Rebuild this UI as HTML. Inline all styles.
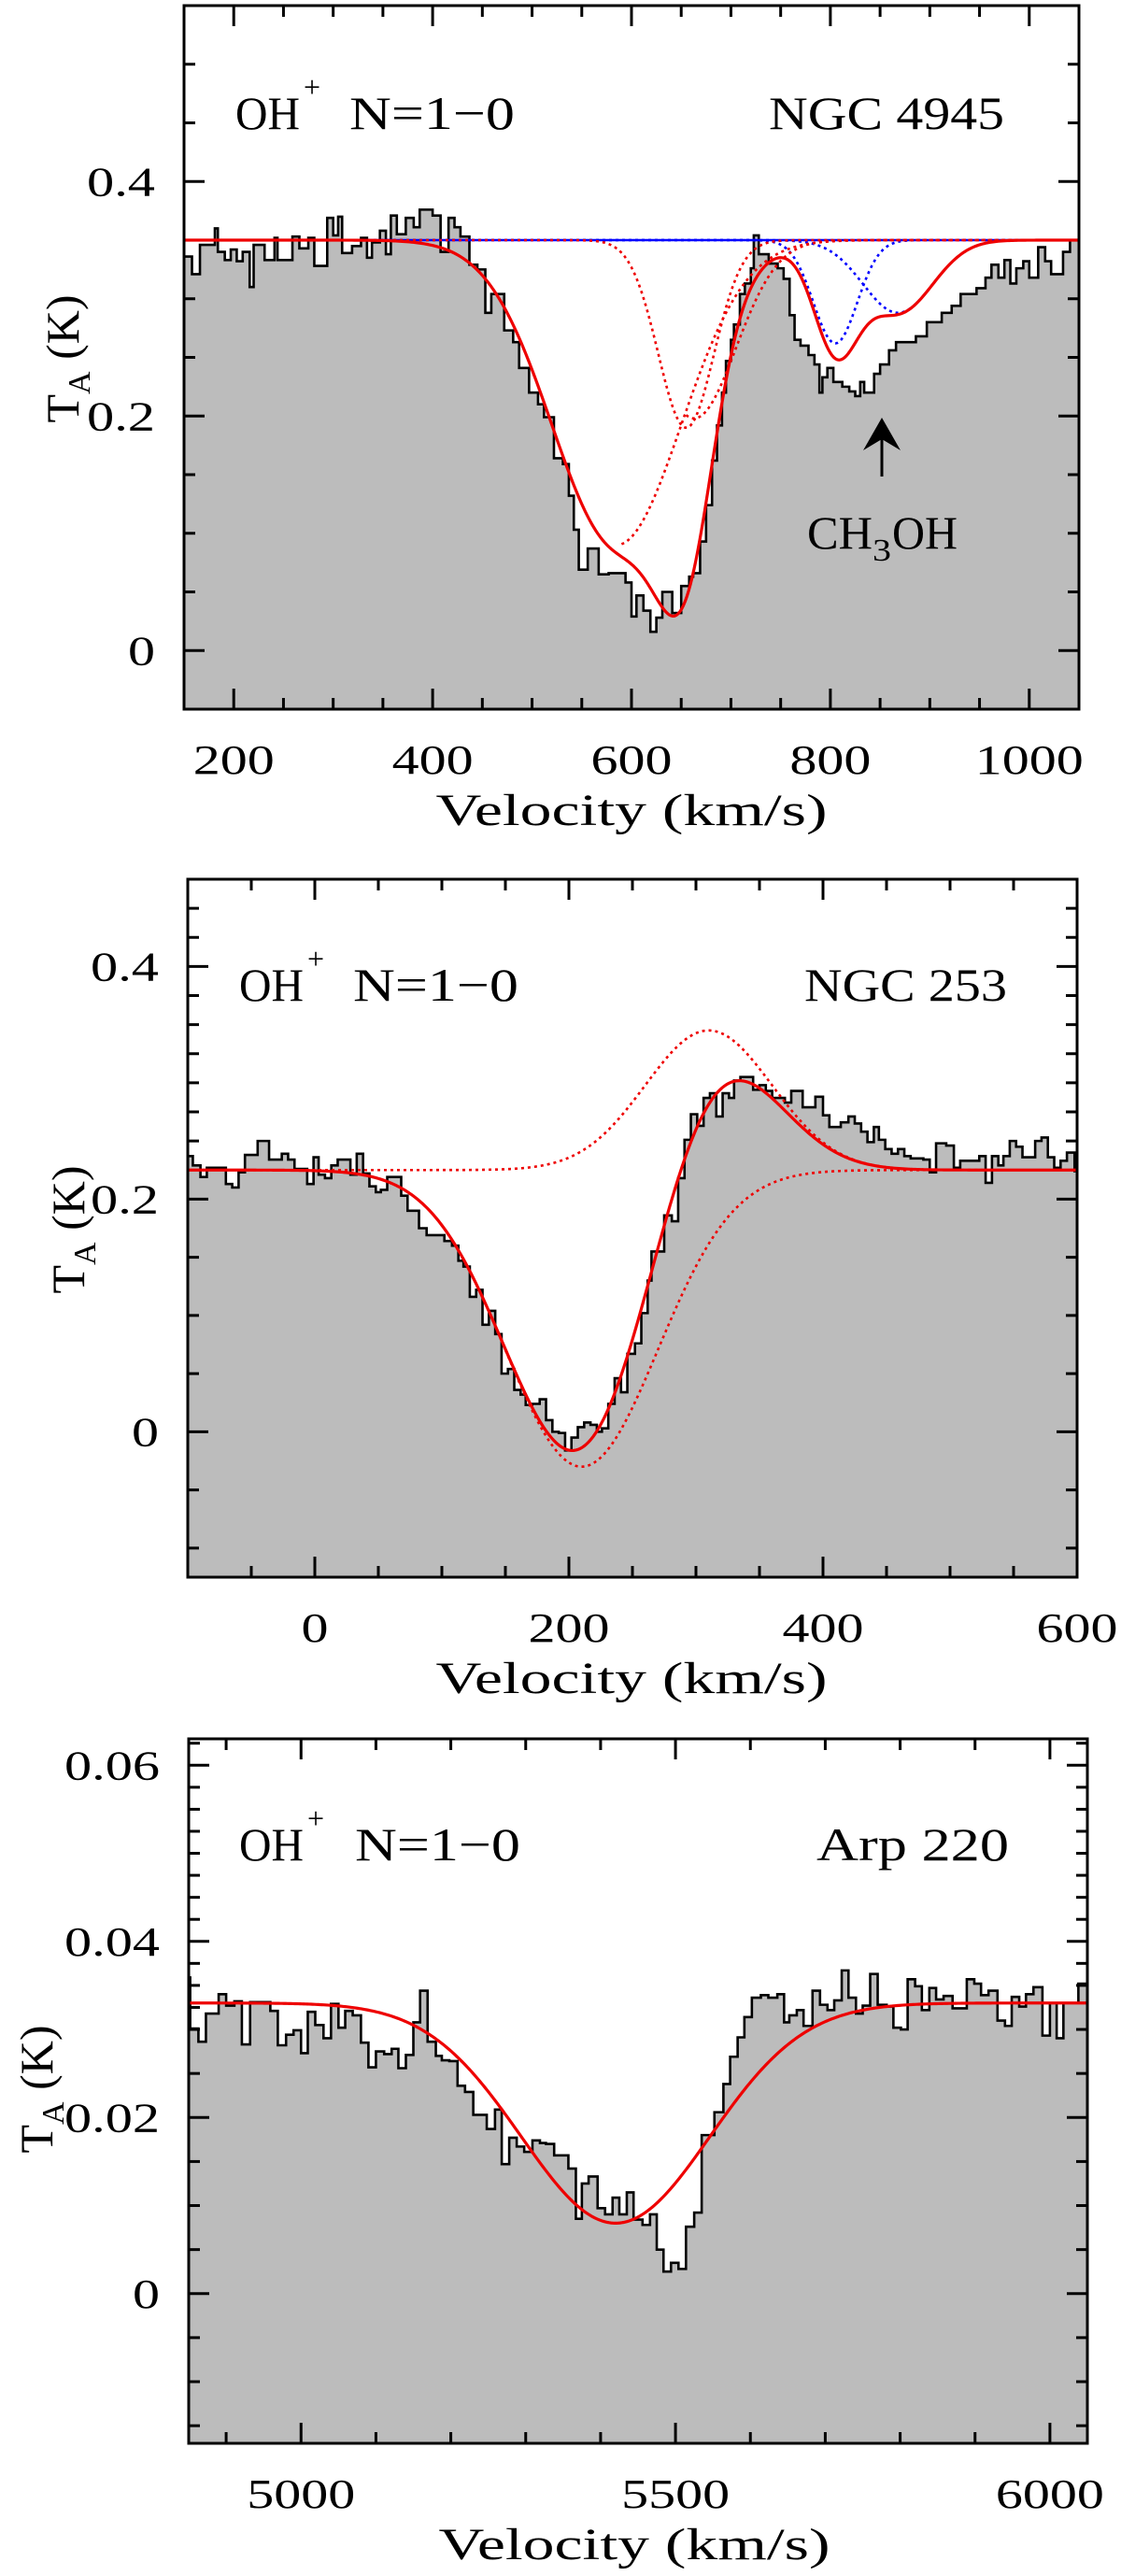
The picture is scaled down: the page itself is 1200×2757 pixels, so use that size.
<!DOCTYPE html>
<html><head><meta charset="utf-8"><title>OH+ N=1-0 spectra</title>
<style>
html,body{margin:0;padding:0;background:#fff;}
svg{display:block;}
text{font-family:"Liberation Serif","DejaVu Serif",serif;fill:#000;}
</style></head>
<body>
<svg id="fig" xmlns="http://www.w3.org/2000/svg" width="1200" height="2757" viewBox="0 0 1200 2757">
<rect x="0" y="0" width="1200" height="2757" fill="#fff"/>
<defs>
<clipPath id="clip0"><rect x="197" y="6" width="958" height="753"/></clipPath>
<clipPath id="clip1"><rect x="201" y="941" width="952" height="747"/></clipPath>
<clipPath id="clip2"><rect x="202" y="1861" width="962" height="754"/></clipPath>
</defs>
<g id="layer"></g>

<g>
<text x="252" y="138" font-size="50" textLength="69" lengthAdjust="spacingAndGlyphs">OH</text>
<text x="325" y="104" font-size="32">+</text>
<text x="374" y="138" font-size="50" textLength="177" lengthAdjust="spacingAndGlyphs">N=1−0</text>
<text x="823" y="138" font-size="50" textLength="252" lengthAdjust="spacingAndGlyphs">NGC 4945</text>
<text x="864" y="587" font-size="50" textLength="70" lengthAdjust="spacingAndGlyphs">CH</text>
<text x="934" y="600" font-size="34" textLength="20" lengthAdjust="spacingAndGlyphs">3</text>
<text x="955" y="587" font-size="50" textLength="70" lengthAdjust="spacingAndGlyphs">OH</text>
<line x1="944" y1="510" x2="944" y2="465" stroke="#000" stroke-width="3"/>
<polygon points="944,447 964,482 944,470 924,482" fill="#000"/>
</g>
<g>
<text x="256" y="1071" font-size="50" textLength="69" lengthAdjust="spacingAndGlyphs">OH</text>
<text x="329" y="1037" font-size="32">+</text>
<text x="378" y="1071" font-size="50" textLength="177" lengthAdjust="spacingAndGlyphs">N=1−0</text>
<text x="861" y="1071" font-size="50" textLength="217" lengthAdjust="spacingAndGlyphs">NGC 253</text>
</g>
<g>
<text x="256" y="1991" font-size="50" textLength="69" lengthAdjust="spacingAndGlyphs">OH</text>
<text x="329" y="1957" font-size="32">+</text>
<text x="380" y="1991" font-size="50" textLength="177" lengthAdjust="spacingAndGlyphs">N=1−0</text>
<text x="874" y="1991" font-size="50" textLength="206" lengthAdjust="spacingAndGlyphs">Arp 220</text>
</g>
</svg>
<script>
// ---------- Panel 1: NGC 4945 ----------
const p1Edges = [150,158,166,181,184,191,197,203,209,216,220,231,241,244,259,266,275,281,294,300,305,309,319,328,334,339,347,353,358,364,373,381,387,400,408,416,422,428,437,445,453,459,472,481,487,497,506,512,522,531,537,542,547,556,567,577,594,
600,605,612,619,625,631,641,650,658,662,669,675,681,686,691,695,700,703,709,714,720,723,728,738,747,753,759,764,770,778,784,789,792,797,803,812,819,825,830,834,844,850,859,866,886,897,912,922,931,947,956,962,969,975,981,987,994,1000,1009,1016,1022,1034,1041];
const p1Values = [0.336,0.321,0.346,0.36,0.34,0.333,0.342,0.332,0.34,0.31,0.346,0.333,0.352,0.333,0.353,0.343,0.352,0.328,0.369,0.354,0.37,0.339,0.345,0.352,0.335,0.348,0.358,0.338,0.371,0.355,0.369,0.361,0.376,0.371,0.34,0.369,0.361,0.353,0.329,0.325,0.288,0.304,0.273,0.263,0.241,0.22,0.21,0.199,0.164,0.159,0.132,0.103,0.069,0.087,0.065,0.066,0.058,
0.029,0.047,0.034,0.016,0.028,0.05,0.032,0.055,0.063,0.066,0.093,0.124,0.162,0.192,0.22,0.247,0.265,0.278,0.304,0.313,0.326,0.354,0.338,0.33,0.326,0.317,0.286,0.265,0.26,0.252,0.244,0.22,0.233,0.241,0.229,0.225,0.221,0.217,0.229,0.22,0.236,0.244,0.256,0.263,0.268,0.28,0.288,0.294,0.304,0.309,0.318,0.329,0.318,0.333,0.313,0.326,0.332,0.318,0.344,0.332,0.321,0.34,0.35];
const p1Baseline = 0.35;
const p1RedCenters = [585,655];
const p1RedDepths = [0.26,0.16];
const p1RedSigmas = [65,28];
const p1BlueCenters = [805,868];
const p1BlueDepths = [0.088,0.062];
const p1BlueSigmas = [22,35];
const p1XTicks = [200,400,600,800,1000];
const p1XTickLabels = ["200","400","600","800","1000"];
const p1YTicks = [0,0.2,0.4];
const p1YTickLabels = ["0","0.2","0.4"];

// ---------- Panel 2: NGC 253 ----------
const p2Edges = [-100,-96,-90,-85,-70,-65,-60,-55,-45,-36,-26,-21,-16,-6,-1,3,8,13,18,28,33,38,43,48,52,57,68,73,82,88,102,108,113,117,122,127,132,137,142,147,152,157,162,166,171,177,182,187,192,197,202,207,212,217,222,226,231,236,241,246,
252,257,262,265,275,281,286,291,296,301,306,311,316,321,326,330,335,345,350,355,360,370,375,384,394,400,405,414,420,425,430,435,440,444,449,454,459,464,469,479,484,489,497,503,508,523,528,533,538,542,547,552,557,562,567,572,577,582,587,592,598];
const p2Values = [0.237,0.229,0.219,0.227,0.213,0.21,0.223,0.238,0.25,0.234,0.239,0.234,0.226,0.213,0.236,0.221,0.218,0.229,0.234,0.221,0.239,0.222,0.211,0.206,0.208,0.219,0.203,0.19,0.175,0.169,0.164,0.16,0.147,0.142,0.116,0.122,0.092,0.104,0.084,0.05,0.054,0.036,0.032,0.023,0.024,0.028,0.01,0.0,-0.001,-0.016,-0.005,0.004,0.008,0.006,0.0,0.003,0.024,0.046,0.034,0.067,
0.076,0.102,0.13,0.155,0.186,0.181,0.218,0.251,0.273,0.263,0.287,0.291,0.271,0.291,0.287,0.302,0.305,0.294,0.298,0.293,0.287,0.283,0.293,0.279,0.288,0.272,0.262,0.266,0.271,0.265,0.258,0.249,0.262,0.251,0.243,0.239,0.243,0.237,0.235,0.234,0.223,0.248,0.246,0.227,0.233,0.237,0.214,0.237,0.229,0.237,0.25,0.245,0.236,0.236,0.25,0.253,0.236,0.227,0.233,0.24,0.224];
const p2Baseline = 0.225;
const p2EmisCenter = [310];
const p2EmisAmp = [0.12];
const p2EmisSigma = [50];
const p2AbsCenter = [210];
const p2AbsDepth = [0.255];
const p2AbsSigma = [60];
const p2XTicks = [0,200,400,600];
const p2XTickLabels = ["0","200","400","600"];
const p2YTicks = [0,0.2,0.4];
const p2YTickLabels = ["0","0.2","0.4"];

// ---------- Panel 3: Arp 220 ----------
const p3Edges = [4850,4852,4863,4873,4890,4900,4911,4921,4932,4950,4959,4969,4980,4990,5000,5009,5019,5030,5040,5050,5059,5069,5080,5090,5100,5111,5121,5130,5140,5150,5159,5169,5180,5188,5198,5209,5219,5230,5248,5259,5268,5278,5288,5298,5309,5319,5327,5338,5357,5367,
5375,5384,5396,5406,5416,5425,5435,5444,5456,5466,5475,5484,5494,5504,5514,5525,5535,5552,5564,5573,5583,5592,5602,5614,5624,5636,5645,5652,5662,5671,5683,5693,5703,5712,5722,5731,5741,5750,5760,5770,5782,5791,5801,5810,5820,5829,5839,5848,5858,5870,5880,5889,5899,5908,5918,5930,5940,5949,5959,5968,5978,5990,6000,6009,6018,6028,6038];
const p3Values = [0.0359,0.0301,0.0286,0.0318,0.034,0.0327,0.0332,0.0283,0.0331,0.0331,0.0321,0.0282,0.0294,0.0299,0.0273,0.032,0.0305,0.029,0.0329,0.0302,0.0321,0.0316,0.0285,0.0257,0.0275,0.0272,0.0278,0.0256,0.0271,0.0308,0.0344,0.0286,0.027,0.0265,0.0264,0.0236,0.0229,0.0203,0.0187,0.0209,0.0147,0.0177,0.0167,0.0161,0.0174,0.0171,0.017,0.0157,0.0142,0.0085,
0.0125,0.0133,0.0097,0.009,0.0109,0.009,0.0115,0.0084,0.0078,0.009,0.005,0.0025,0.0035,0.0028,0.0076,0.0092,0.018,0.0206,0.0238,0.0269,0.0291,0.0314,0.0336,0.0339,0.0336,0.034,0.0308,0.0316,0.0322,0.0304,0.0344,0.0328,0.0322,0.0333,0.0367,0.0336,0.0318,0.0327,0.0363,0.0328,0.0326,0.0302,0.03,0.0357,0.0349,0.0322,0.0347,0.0334,0.0338,0.0324,0.0324,0.0357,0.0352,0.0339,0.0344,0.031,0.0304,0.0337,0.0326,0.034,0.0348,0.0293,0.033,0.029,0.033,0.033,0.0352];
const p3Baseline = 0.033;
const p3AbsCenter = [5420];
const p3AbsDepth = [0.025];
const p3AbsSigma = [126];
const p3XTicks = [5000,5500,6000];
const p3XTickLabels = ["5000","5500","6000"];
const p3YTicks = [0,0.02,0.04,0.06];
const p3YTickLabels = ["0","0.02","0.04","0.06"];

// ---------- layout (pixel geometry, not data) ----------
const panels = [
 {name:'ngc4945', L:197,R:1155,T:6,B:759, vmin:150,vmax:1050, tmin:-0.05,tmax:0.55, xMinor:50,xMajor:200, yFine:0.05,yCoarse:0.05,yMajor:0.2, titleX:676, yTitleX:84, yTitleY:384, clip:'clip0'},
 {name:'ngc253', L:201,R:1153,T:941,B:1688, vmin:-100,vmax:600, tmin:-0.125,tmax:0.475, xMinor:50,xMajor:200, yFine:0.025,yCoarse:0.05,yMajor:0.2, titleX:676, yTitleX:90, yTitleY:1316, clip:'clip1'},
 {name:'arp220', L:202,R:1164,T:1861,B:2615, vmin:4850,vmax:6050, tmin:-0.017,tmax:0.063, xMinor:100,xMajor:500, yFine:0.0025,yCoarse:0.005,yMajor:0.02, titleX:679, yTitleX:56, yTitleY:2236, clip:'clip2'}
];
const NS='http://www.w3.org/2000/svg';
const layer=document.getElementById('layer');
function mk(tag, attrs, parent){
  const e=document.createElementNS(NS,tag);
  for(const k in attrs) e.setAttribute(k, attrs[k]);
  (parent||layer).appendChild(e);
  return e;
}
function xs(p,v){return p.L+(v-p.vmin)/(p.vmax-p.vmin)*(p.R-p.L);}
function ys(p,t){return p.B-(t-p.tmin)/(p.tmax-p.tmin)*(p.B-p.T);}
function gauss(v,c,a,s){return a*Math.exp(-(v-c)*(v-c)/(2*s*s));}
function isMult(val,step){const r=val/step;return Math.abs(r-Math.round(r))<1e-6;}

function yTicks(p,g,step,skipStep,majStep){
  const start=Math.ceil(p.tmin/step-1e-9)*step;
  for(let t=start;t<=p.tmax+1e-9;t+=step){
    if(skipStep && isMult(t,skipStep)) continue;
    const y=ys(p,t);
    const len=isMult(t,majStep)?22:12;
    const a=mk('line',{x1:p.L,y1:y,x2:p.L+len,y2:y,stroke:'#000','stroke-width':3},g);
    
    
    const b=mk('line',{x1:p.R,y1:y,x2:p.R-len,y2:y,stroke:'#000','stroke-width':3},g);
    
    
  }
}
function xTicks(p,g){
  const start=Math.ceil(p.vmin/p.xMinor-1e-9)*p.xMinor;
  for(let v=start;v<=p.vmax+1e-9;v+=p.xMinor){
    const x=xs(p,v);
    const len=isMult(v,p.xMajor)?22:12;
    const a=mk('line',{x1:x,y1:p.B,x2:x,y2:p.B-len,stroke:'#000','stroke-width':3},g);
    
    
    const b=mk('line',{x1:x,y1:p.T,x2:x,y2:p.T+len,stroke:'#000','stroke-width':3},g);
    
    
  }
}
function histPaths(p,edges,vals){
  let line='', fill='M'+xs(p,edges[0])+','+p.B;
  for(let i=0;i<vals.length;i++){
    const x0=xs(p,edges[i]);
    const x1=xs(p,i+1<edges.length?edges[i+1]:p.vmax);
    const y=ys(p,vals[i]);
    line+=(i===0?'M':'L')+x0+','+y+'L'+x1+','+y;
    fill+='L'+x0+','+y+'L'+x1+','+y;
  }
  fill+='L'+xs(p,p.vmax)+','+p.B+'Z';
  return {line,fill};
}
function curvePath(p,fn,v0,v1){
  let d='';const n=500;
  for(let i=0;i<=n;i++){
    const v=v0+(v1-v0)*i/n;
    d+=(i===0?'M':'L')+xs(p,v).toFixed(2)+','+ys(p,fn(v)).toFixed(2);
  }
  return d;
}
function textEl(g,x,y,str,size,anchor,len){
  const t=mk('text',{x:x,y:y,'font-size':size,'text-anchor':anchor},g);
  if(len){t.setAttribute('textLength',len);t.setAttribute('lengthAdjust','spacingAndGlyphs');}
  t.textContent=str;
  return t;
}
function labelWidth(s){let w=0;for(const c of s){w+=(c==='.')?15:29;}return w;}

const edgesAll=[p1Edges,p2Edges,p3Edges];
const valsAll=[p1Values,p2Values,p3Values];
const xtAll=[p1XTicks,p2XTicks,p3XTicks];
const xtlAll=[p1XTickLabels,p2XTickLabels,p3XTickLabels];
const ytAll=[p1YTicks,p2YTicks,p3YTicks];
const ytlAll=[p1YTickLabels,p2YTickLabels,p3YTickLabels];

const modelFns=[
  {
    total:v=>{let t=p1Baseline;for(let i=0;i<p1RedCenters.length;i++)t-=gauss(v,p1RedCenters[i],p1RedDepths[i],p1RedSigmas[i]);for(let i=0;i<p1BlueCenters.length;i++)t-=gauss(v,p1BlueCenters[i],p1BlueDepths[i],p1BlueSigmas[i]);return t;},
    red:[ {fn:v=>p1Baseline-gauss(v,p1RedCenters[0],p1RedDepths[0],p1RedSigmas[0]), from:p1RedCenters[0]+5},
          {fn:v=>p1Baseline-gauss(v,p1RedCenters[1],p1RedDepths[1],p1RedSigmas[1]), from:null},
          {fn:v=>p1Baseline-gauss(v,p1RedCenters[1]+8,p1RedDepths[1]*0.95,p1RedSigmas[1]*1.5), from:p1RedCenters[1]}],
    blue:[ v=>p1Baseline-gauss(v,p1BlueCenters[0],p1BlueDepths[0],p1BlueSigmas[0]),
           v=>p1Baseline-gauss(v,p1BlueCenters[1],p1BlueDepths[1],p1BlueSigmas[1])],
    blueBase:true
  },
  {
    total:v=>p2Baseline+gauss(v,p2EmisCenter[0],p2EmisAmp[0],p2EmisSigma[0])-gauss(v,p2AbsCenter[0],p2AbsDepth[0],p2AbsSigma[0]),
    red:[ {fn:v=>p2Baseline+gauss(v,p2EmisCenter[0],p2EmisAmp[0],p2EmisSigma[0]), from:null},
          {fn:v=>p2Baseline-gauss(v,p2AbsCenter[0],p2AbsDepth[0],p2AbsSigma[0]), from:null}],
    blue:[]
  },
  {
    total:v=>p3Baseline-gauss(v,p3AbsCenter[0],p3AbsDepth[0],p3AbsSigma[0]),
    red:[], blue:[]
  }
];

panels.forEach((p,k)=>{
  const g=mk('g',{});
  
  
  if(p.yFine!==p.yCoarse) yTicks(p,g,p.yFine,p.yCoarse,p.yMajor);
  const h=histPaths(p,edgesAll[k],valsAll[k]);
  const f=mk('path',{d:h.fill,fill:'#bcbcbc',stroke:'none','clip-path':'url(#'+p.clip+')'},g);
  
  
  yTicks(p,g,p.yCoarse,null,p.yMajor);
  xTicks(p,g);
  const hl=mk('path',{d:h.line,fill:'none',stroke:'#000','stroke-width':2.6,'stroke-linejoin':'miter','clip-path':'url(#'+p.clip+')'},g);
  
  
  const m=modelFns[k];
  if(m.blueBase){
    const bl=mk('line',{x1:xs(p,p.vmin),y1:ys(p,p1Baseline),x2:xs(p,p.vmax),y2:ys(p,p1Baseline),stroke:'#0000ff','stroke-width':2.4},g);
    
    
  }
  m.blue.forEach(fn=>{
    const c=mk('path',{d:curvePath(p,fn,p.vmin,p.vmax),fill:'none',stroke:'#0000ff','stroke-width':2.6,'stroke-dasharray':'3 4','clip-path':'url(#'+p.clip+')'},g);
    
    
  });
  m.red.forEach(r=>{
    const c=mk('path',{d:curvePath(p,r.fn,r.from===null?p.vmin:r.from,p.vmax),fill:'none',stroke:'#ee0000','stroke-width':2.6,'stroke-dasharray':'3 4','clip-path':'url(#'+p.clip+')'},g);
    
    
  });
  const tc=mk('path',{d:curvePath(p,m.total,p.vmin,p.vmax),fill:'none',stroke:'#ee0000','stroke-width':3.2,'clip-path':'url(#'+p.clip+')'},g);
  
  
  const fr=mk('rect',{x:p.L,y:p.T,width:p.R-p.L,height:p.B-p.T,fill:'none',stroke:'#000','stroke-width':3},g);
  
  
  xtAll[k].forEach((v,i)=>{
    const s=xtlAll[k][i];
    const t=textEl(g,xs(p,v),p.B+69,s,44,'middle',labelWidth(s));
    
    
  });
  ytAll[k].forEach((v,i)=>{
    const s=ytlAll[k][i];
    const t=textEl(g,p.L-31,ys(p,v)+15,s,44,'end',labelWidth(s));
    
    
  });
  const xt=textEl(g,p.titleX,p.B+124,'Velocity (km/s)',48,'middle',419);
  
  
  const yt=mk('text',{x:0,y:0,'font-size':50,'text-anchor':'middle',transform:'translate('+p.yTitleX+','+p.yTitleY+') rotate(-90)'},g);
  
  
  const t1=mk('tspan',{},yt); t1.textContent='T';
  const t2=mk('tspan',{'font-size':34,dy:12},yt); t2.textContent='A';
  const t3=mk('tspan',{dy:-12},yt); t3.textContent='\u00a0(K)';
});
</script>
</body></html>
